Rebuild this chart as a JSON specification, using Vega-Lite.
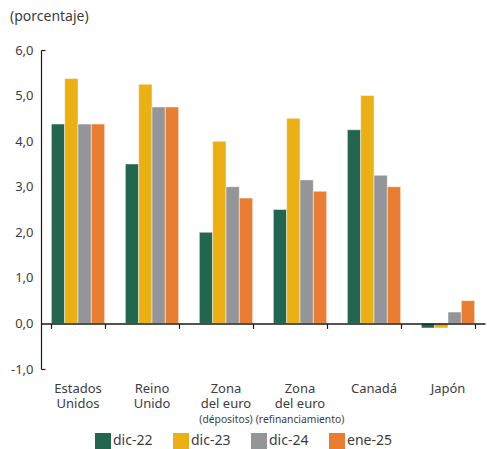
{
  "$schema": "https://vega.github.io/schema/vega-lite/v6.json",
  "width": 444,
  "height": 319,
  "autosize": {"type": "none"},
  "padding": {"left": 41, "top": 50, "right": 2, "bottom": 80},
  "title": {
    "text": "(porcentaje)",
    "anchor": "start",
    "frame": "group",
    "dx": -31,
    "offset": 20,
    "fontSize": 14,
    "fontWeight": "normal",
    "color": "#3d3d3d",
    "font": "Noto Sans"
  },
  "config": {
    "view": {"stroke": null},
    "font": "Noto Sans"
  },
  "data": {
    "values": [
      {"categoria": "Estados Unidos", "serie": "dic-22", "valor": 4.375},
      {"categoria": "Estados Unidos", "serie": "dic-23", "valor": 5.375},
      {"categoria": "Estados Unidos", "serie": "dic-24", "valor": 4.375},
      {"categoria": "Estados Unidos", "serie": "ene-25", "valor": 4.375},
      {"categoria": "Reino Unido", "serie": "dic-22", "valor": 3.5},
      {"categoria": "Reino Unido", "serie": "dic-23", "valor": 5.25},
      {"categoria": "Reino Unido", "serie": "dic-24", "valor": 4.75},
      {"categoria": "Reino Unido", "serie": "ene-25", "valor": 4.75},
      {"categoria": "Zona del euro (dépositos)", "serie": "dic-22", "valor": 2.0},
      {"categoria": "Zona del euro (dépositos)", "serie": "dic-23", "valor": 4.0},
      {"categoria": "Zona del euro (dépositos)", "serie": "dic-24", "valor": 3.0},
      {"categoria": "Zona del euro (dépositos)", "serie": "ene-25", "valor": 2.75},
      {"categoria": "Zona del euro (refinanciamiento)", "serie": "dic-22", "valor": 2.5},
      {"categoria": "Zona del euro (refinanciamiento)", "serie": "dic-23", "valor": 4.5},
      {"categoria": "Zona del euro (refinanciamiento)", "serie": "dic-24", "valor": 3.15},
      {"categoria": "Zona del euro (refinanciamiento)", "serie": "ene-25", "valor": 2.9},
      {"categoria": "Canadá", "serie": "dic-22", "valor": 4.25},
      {"categoria": "Canadá", "serie": "dic-23", "valor": 5.0},
      {"categoria": "Canadá", "serie": "dic-24", "valor": 3.25},
      {"categoria": "Canadá", "serie": "ene-25", "valor": 3.0},
      {"categoria": "Japón", "serie": "dic-22", "valor": -0.1},
      {"categoria": "Japón", "serie": "dic-23", "valor": -0.1},
      {"categoria": "Japón", "serie": "dic-24", "valor": 0.25},
      {"categoria": "Japón", "serie": "ene-25", "valor": 0.5}
    ]
  },
  "layer": [
    {
      "mark": {"type": "bar", "stroke": "#ffffff", "strokeWidth": 0.8, "strokeOpacity": 0.6},
      "encoding": {
        "x": {
          "field": "categoria",
          "type": "nominal",
          "sort": ["Estados Unidos", "Reino Unido", "Zona del euro (dépositos)", "Zona del euro (refinanciamiento)", "Canadá", "Japón"],
          "scale": {"paddingInner": 0.28, "paddingOuter": 0.14},
          "axis": {
            "orient": "bottom",
            "title": null,
            "offset": -45.57,
            "zindex": 1,
            "domain": true,
            "domainColor": "#1a1a1a",
            "domainWidth": 1.5,
            "ticks": true,
            "tickBand": "extent",
            "tickColor": "#1a1a1a",
            "tickSize": 5,
            "tickWidth": 1.2,
            "labels": false
          }
        },
        "xOffset": {
          "field": "serie",
          "type": "nominal",
          "sort": ["dic-22", "dic-23", "dic-24", "ene-25"],
          "scale": {"paddingInner": 0, "paddingOuter": 0}
        },
        "y": {
          "field": "valor",
          "type": "quantitative",
          "scale": {"domain": [-1, 6], "nice": false, "zero": false},
          "axis": {
            "orient": "left",
            "title": null,
            "values": [-1, 0, 1, 2, 3, 4, 5, 6],
            "labelExpr": "replace(replace(format(datum.value, '.1f'), '.', ','), '−', '-')",
            "grid": false,
            "domainColor": "#1a1a1a",
            "domainWidth": 1.2,
            "ticks": false,
            "labelPadding": 8,
            "labelFontSize": 13,
            "labelColor": "#3d3d3d"
          }
        },
        "color": {
          "field": "serie",
          "type": "nominal",
          "scale": {
            "domain": ["dic-22", "dic-23", "dic-24", "ene-25"],
            "range": ["#236650", "#eab014", "#939598", "#e97d32"]
          },
          "legend": {
            "title": null,
            "orient": "none",
            "legendX": 54,
            "legendY": 383,
            "direction": "horizontal",
            "symbolType": "square",
            "symbolSize": 256,
            "symbolStrokeWidth": 0,
            "symbolOpacity": 1,
            "labelFontSize": 14,
            "labelColor": "#3d3d3d",
            "labelOffset": 2,
            "columnPadding": 20
          }
        }
      }
    },
    {
      "mark": {"type": "tick", "opacity": 0},
      "encoding": {
        "x": {
          "field": "categoria",
          "type": "nominal",
          "sort": ["Estados Unidos", "Reino Unido", "Zona del euro (dépositos)", "Zona del euro (refinanciamiento)", "Canadá", "Japón"],
          "axis": {
            "orient": "bottom",
            "title": null,
            "domain": false,
            "ticks": false,
            "tickSize": 0,
            "labelAngle": 0,
            "labelPadding": 13,
            "labelFontSize": 13,
            "labelLineHeight": 15,
            "labelColor": "#3d3d3d",
            "labelOverlap": false,
            "labelBound": false,
            "labelExpr": "datum.value == 'Estados Unidos' ? ['Estados', 'Unidos'] : datum.value == 'Reino Unido' ? ['Reino', 'Unido'] : indexof(datum.value, 'Zona') == 0 ? ['Zona', 'del euro'] : datum.value"
          }
        },
        "y": {
          "field": "valor",
          "type": "quantitative",
          "axis": {
            "orient": "left",
            "title": null,
            "values": [-1, 6],
            "labels": false,
            "domain": false,
            "grid": false,
            "ticks": true,
            "tickSize": -4,
            "tickWidth": 1.2,
            "tickColor": "#1a1a1a"
          }
        }
      }
    },
    {
      "mark": {"type": "tick", "opacity": 0},
      "encoding": {
        "x": {
          "field": "categoria",
          "type": "nominal",
          "sort": ["Estados Unidos", "Reino Unido", "Zona del euro (dépositos)", "Zona del euro (refinanciamiento)", "Canadá", "Japón"],
          "axis": {
            "orient": "bottom",
            "title": null,
            "domain": false,
            "ticks": false,
            "tickSize": 0,
            "values": ["Zona del euro (dépositos)", "Zona del euro (refinanciamiento)"],
            "labelAngle": 0,
            "labelPadding": 45,
            "labelFontSize": 10.3,
            "labelColor": "#3d3d3d",
            "labelOverlap": false,
            "labelBound": false,
            "labelExpr": "substring(datum.value, indexof(datum.value, '('))"
          }
        }
      }
    }
  ],
  "resolve": {"axis": {"x": "independent", "y": "independent"}}
}
